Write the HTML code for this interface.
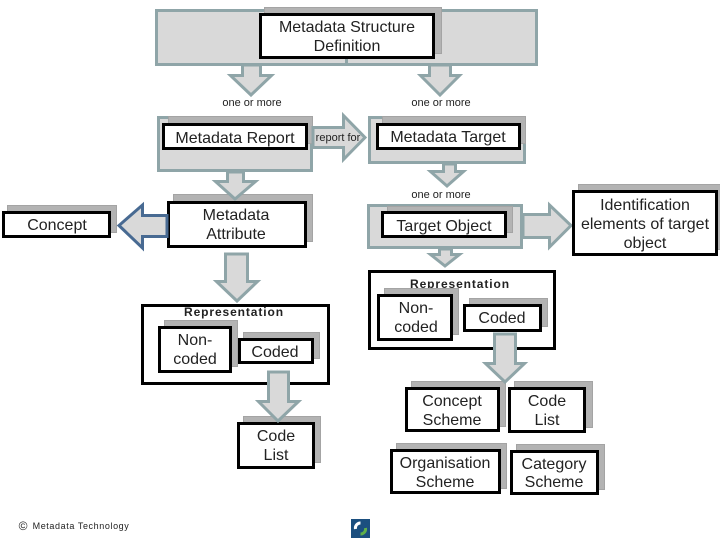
<!DOCTYPE html>
<html>
<head>
<meta charset="utf-8">
<style>
html,body{margin:0;padding:0;background:#fff;width:720px;height:540px;overflow:hidden}
svg{display:block}
text{font-family:"Liberation Sans",sans-serif;fill:#222;text-anchor:middle}
.t{font-size:16px}
.s{font-size:11px}
.r{font-size:12px;font-weight:bold;letter-spacing:.9px}
.g{fill:#d9d9d9;stroke:#8fa5a8;stroke-width:3}
.a{fill:#d9d9d9;stroke:#8fa5a8;stroke-width:3;stroke-linejoin:miter}
.sh{fill:#b3b3b3;stroke:#a4a4a4;stroke-width:1}
.b{fill:#fff;stroke:#000;stroke-width:3}
</style>
</head>
<body>
<svg width="720" height="540" viewBox="0 0 720 540" xmlns="http://www.w3.org/2000/svg">
<!-- top gray -->
<rect class="g" x="156.500" y="10.500" width="190" height="54"/>
<rect class="g" x="346.500" y="10.500" width="190" height="54"/>
<polygon class="a" points="242.500,65 260.500,65 260.500,75.500 271.500,75.500 251,95 230.500,75.500 242.500,75.500"/>
<polygon class="a" points="429.500,65 450.500,65 450.500,75.500 459.500,75.500 440,95 420.500,75.500 429.500,75.500"/>
<rect class="sh" x="264.500" y="7.500" width="177" height="46"/>
<rect class="b" x="260.500" y="14.500" width="173" height="43"/>
<text class="t" x="347" y="32">Metadata Structure</text>
<text class="t" x="347" y="51">Definition</text>
<text class="s" x="252" y="106">one or more</text>
<text class="s" x="441" y="106">one or more</text>

<!-- report row -->
<rect class="g" x="158.500" y="117.500" width="153" height="53"/>
<rect class="sh" x="168.500" y="116.500" width="144" height="27"/>
<rect class="b" x="163.500" y="124.500" width="143" height="24"/>
<text class="t" x="235" y="143">Metadata Report</text>
<polygon class="a" points="313,127.500 343.500,127.500 343.500,115.500 365,137.500 343.500,159.500 343.500,147.500 313,147.500"/>
<text class="s" x="338" y="141">report for</text>
<rect class="g" x="369.500" y="117.500" width="155" height="45"/>
<rect class="sh" x="382.500" y="116.500" width="143" height="27"/>
<rect class="b" x="377.500" y="124.500" width="142" height="24"/>
<text class="t" x="448" y="142">Metadata Target</text>
<polygon class="a" points="443.500,164 455.500,164 455.500,171.500 463.500,171.500 447,186 430.500,171.500 443.500,171.500"/>
<text class="s" x="441" y="198">one or more</text>

<!-- attribute -->
<rect class="sh" x="173.500" y="194.500" width="139" height="47"/>
<rect class="b" x="168.500" y="202.500" width="137" height="44"/>
<polygon class="a" points="227.500,172 243.500,172 243.500,181.500 255.500,181.500 235,199 215.500,181.500 227.500,181.500"/>
<text class="t" x="236" y="220">Metadata</text>
<text class="t" x="236" y="239">Attribute</text>
<rect class="sh" x="7.500" y="205.500" width="109" height="27"/>
<rect class="b" x="3.500" y="212.500" width="106" height="24"/>
<text class="t" x="57" y="230">Concept</text>
<polygon points="167,215.500 142.500,215.500 142.500,205 119,225.500 142.500,248 142.500,236.500 167,236.500" fill="#d9d9d9" stroke="#486a92" stroke-width="3"/>
<polygon class="a" points="225.500,254 247.500,254 247.500,281.500 257.500,281.500 237,301 216.500,281.500 225.500,281.500"/>

<!-- left representation -->
<rect class="b" x="142.500" y="305.500" width="186" height="78"/>
<text class="r" x="234" y="316">Representation</text>
<rect class="sh" x="164.500" y="320.500" width="73" height="46"/>
<rect class="b" x="159.500" y="327.500" width="71" height="44"/>
<text class="t" x="195" y="345">Non-</text>
<text class="t" x="195" y="364">coded</text>
<rect class="sh" x="243.500" y="332.500" width="76" height="26"/>
<rect class="b" x="239.500" y="339.500" width="73" height="23"/>
<text class="t" x="275" y="357">Coded</text>
<rect class="sh" x="243.500" y="416.500" width="77" height="46"/>
<rect class="b" x="238.500" y="423.500" width="75" height="44"/>
<text class="t" x="276" y="441">Code</text>
<text class="t" x="276" y="460">List</text>
<polygon class="a" points="268.500,372 288.500,372 288.500,401.500 298.500,401.500 278,421 258.500,401.500 268.500,401.500"/>

<!-- target object -->
<rect class="g" x="368.500" y="205.500" width="153" height="42"/>
<rect class="sh" x="387.500" y="206.500" width="125" height="26"/>
<rect class="b" x="382.500" y="212.500" width="123" height="24"/>
<text class="t" x="444" y="231">Target Object</text>
<polygon class="a" points="523,214.500 549.500,214.500 549.500,205 571,225.500 549.500,247 549.500,237.500 523,237.500"/>
<rect class="sh" x="578.500" y="184.500" width="142" height="65"/>
<rect class="b" x="573.500" y="191.500" width="143" height="63"/>
<text class="t" x="645" y="210">Identification</text>
<text class="t" x="645" y="229">elements of target</text>
<text class="t" x="645" y="248">object</text>

<!-- right representation -->
<rect class="b" x="369.500" y="271.500" width="185" height="77"/>
<polygon class="a" points="439.500,249 451.500,249 451.500,254.500 459.500,254.500 445,266 430.500,254.500 439.500,254.500"/>
<text class="r" x="460" y="288">Representation</text>
<rect class="sh" x="384.500" y="288.500" width="74" height="46"/>
<rect class="b" x="378.500" y="295.500" width="73" height="44"/>
<text class="t" x="416" y="313">Non-</text>
<text class="t" x="416" y="332">coded</text>
<rect class="sh" x="469.500" y="298.500" width="78" height="28"/>
<rect class="b" x="464.500" y="305.500" width="76" height="25"/>
<text class="t" x="502" y="323">Coded</text>

<!-- schemes -->
<rect class="sh" x="411.500" y="381.500" width="94" height="45"/>
<rect class="b" x="406.500" y="388.500" width="92" height="42"/>
<text class="t" x="452" y="406">Concept</text>
<text class="t" x="452" y="425">Scheme</text>
<rect class="sh" x="514.500" y="381.500" width="78" height="46"/>
<rect class="b" x="509.500" y="388.500" width="75" height="43"/>
<text class="t" x="547" y="406">Code</text>
<text class="t" x="547" y="425">List</text>
<rect class="sh" x="396.500" y="443.500" width="110" height="45"/>
<rect class="b" x="391.500" y="450.500" width="108" height="42"/>
<text class="t" x="445" y="468">Organisation</text>
<text class="t" x="445" y="487">Scheme</text>
<rect class="sh" x="516.500" y="444.500" width="88" height="45"/>
<rect class="b" x="511.500" y="451.500" width="86" height="42"/>
<text class="t" x="554" y="469">Category</text>
<text class="t" x="554" y="487">Scheme</text>
<polygon class="a" points="494.500,334 515.500,334 515.500,363.500 524.500,363.500 505,382 485.500,363.500 494.500,363.500"/>

<!-- footer -->
<text x="23" y="530" style="font-size:12px">©</text>
<text x="81" y="529" style="font-size:9px;letter-spacing:.6px">Metadata Technology</text>
<rect x="351" y="519" width="19" height="19" fill="#1b4f7f"/>
<path d="M355.500 529a5 5 0 0 1 5-6" fill="none" stroke="#fff" stroke-width="3"/>
<path d="M365.500 528a5 5 0 0 1-5 6" fill="none" stroke="#5fb04a" stroke-width="3"/>
</svg>
</body>
</html>
